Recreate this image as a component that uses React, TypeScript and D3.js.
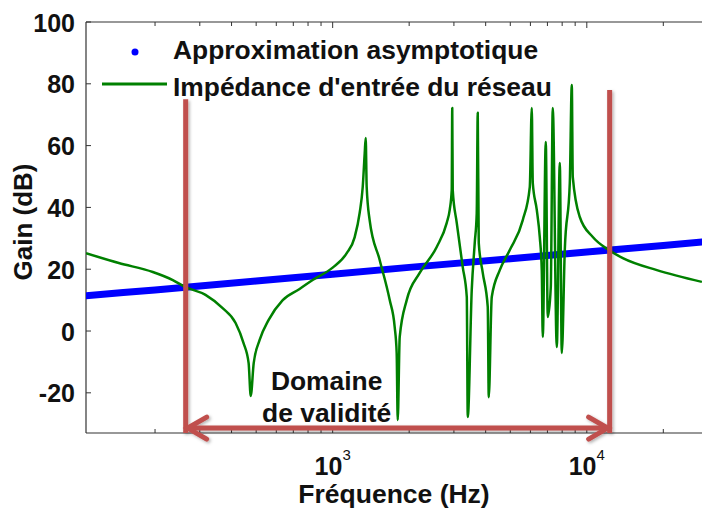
import { useEffect, useRef } from 'react';
import * as d3 from 'd3';

// Input impedance of the network (green)
const impedanceFreq = [107, 144, 196, 235, 264, 316, 369, 415, 446, 467, 476, 489, 516, 560, 636, 741, 834, 1000, 1136, 1221, 1277, 1313, 1337, 1349, 1361, 1398, 1531, 1677, 1754, 1786, 1803, 1836, 1956, 2200, 2567, 2811, 2888, 2941, 2955, 2968, 3078, 3250, 3371, 3401, 3526, 3623, 3689, 3723, 3757, 3896, 4076, 4114, 4227, 4545, 4977, 5598, 5965, 6074, 6130, 6356, 6531, 6650, 6711, 6896, 7022, 7216, 7347, 7620, 7830, 7973, 8192, 8572, 8729, 8808, 9385, 10560, 12210, 13860, 18870, 28370];
const impedanceGain = [25.2, 22.0, 19.1, 16.5, 14.2, 11.7, 7.4, 2.6, -3.9, -10.4, -21.0, -10.4, -2.9, 3.6, 10.0, 13.6, 16.5, 20.5, 25.2, 30.4, 38.2, 46.6, 57.6, 62.5, 46.6, 35.9, 23.0, 10.0, 1.3, -7.1, -28.8, -1.9, 10.0, 18.8, 27.2, 35.0, 39.2, 45.6, 72.2, 45.6, 35.0, 20.7, 11.0, -27.8, 13.3, 28.5, 38.2, 70.6, 28.5, 18.8, 7.8, -21.4, 11.0, 19.7, 26.2, 35.9, 46.6, 72.2, 47.9, 39.2, 30.4, 19.7, -1.9, 61.2, 4.5, 14.2, 72.2, -5.2, 54.4, -7.1, 26.2, 47.9, 79.6, 49.8, 36.9, 30.4, 26.2, 23.6, 19.7, 15.9];

// Asymptotic approximation (blue)
const asymFreq = [107, 150, 200, 300, 500, 1000, 2000, 5000, 10000, 20000, 28400];
const asymGain = [11.4, 12.5, 13.3, 14.6, 16.2, 18.4, 20.6, 23.4, 25.6, 27.7, 28.8];

const yTicks = [-20, 0, 20, 40, 60, 80, 100];
const xMajorTicks = [1000, 10000];
const xDomain = [107, 28400];
const yDomain = [-33, 100];

// validity domain annotation
const validityFreq = [264, 12300];
const validityTop = [75, 78];
const arrowGain = -31.4;

const legendLabels = ['Approximation asymptotique', "Impédance d'entrée du réseau"];

export default function App() {
  const svgRef = useRef<SVGSVGElement>(null);

  useEffect(() => {
    if (!svgRef.current) return;
    const width = 702;
    const height = 508;
    const margin = { top: 22, right: 0, bottom: 75, left: 86 };
    const font = "'Liberation Sans', Arial, sans-serif";

    d3.select(svgRef.current).selectAll('*').remove();
    const svg = d3.select(svgRef.current).attr('width', width).attr('height', height);

    const x = d3.scaleLog().domain(xDomain).range([margin.left, width - margin.right]);
    const y = d3.scaleLinear().domain(yDomain).range([height - margin.bottom, margin.top]);

    const defs = svg.append('defs');
    defs.append('clipPath').attr('id', 'plot')
      .append('rect')
      .attr('x', margin.left).attr('y', margin.top)
      .attr('width', width - margin.left - margin.right)
      .attr('height', height - margin.top - margin.bottom);
    const shadow = defs.append('filter').attr('id', 'shadow')
      .attr('x', '-50%').attr('y', '-50%').attr('width', '200%').attr('height', '200%');
    shadow.append('feDropShadow').attr('dx', 1.5).attr('dy', 1.5)
      .attr('stdDeviation', 1.5).attr('flood-color', '#000').attr('flood-opacity', 0.3);

    // minor log ticks
    const minor: number[] = [];
    for (let k = 2; k <= 4; k++) {
      for (let m = 1; m < 10; m++) {
        const v = m * Math.pow(10, k);
        if (v >= xDomain[0] && v <= xDomain[1]) minor.push(v);
      }
    }

    const axisColor = '#333';
    const y0 = y(yDomain[0]);
    const yTop = y(yDomain[1]);

    // frame: top, left, bottom
    svg.append('line').attr('x1', margin.left).attr('x2', width).attr('y1', yTop).attr('y2', yTop)
      .attr('stroke', axisColor).attr('stroke-width', 1.2);
    svg.append('line').attr('x1', margin.left).attr('x2', width).attr('y1', y0).attr('y2', y0)
      .attr('stroke', axisColor).attr('stroke-width', 1.2);
    svg.append('line').attr('x1', margin.left).attr('x2', margin.left).attr('y1', yTop).attr('y2', y0)
      .attr('stroke', axisColor).attr('stroke-width', 1.2);

    // x ticks (inside, bottom and top)
    minor.forEach((v) => {
      const len = xMajorTicks.includes(v) ? 6 : 4;
      svg.append('line').attr('x1', x(v)).attr('x2', x(v)).attr('y1', y0).attr('y2', y0 - len)
        .attr('stroke', axisColor);
      svg.append('line').attr('x1', x(v)).attr('x2', x(v)).attr('y1', yTop).attr('y2', yTop + len)
        .attr('stroke', axisColor);
    });

    // y ticks
    yTicks.forEach((v) => {
      svg.append('line').attr('x1', margin.left).attr('x2', margin.left + 5).attr('y1', y(v)).attr('y2', y(v))
        .attr('stroke', axisColor);
      svg.append('text').attr('x', 75).attr('y', y(v) + 9.5)
        .attr('text-anchor', 'end').attr('font-family', font).attr('font-weight', 'bold')
        .attr('font-size', 25).attr('fill', '#111').text(v);
    });

    // x tick labels 10^k
    xMajorTicks.forEach((v) => {
      const t = svg.append('text').attr('x', x(v)).attr('y', 475)
        .attr('text-anchor', 'middle').attr('font-family', font).attr('font-size', 25)
        .attr('font-weight', 'bold').attr('fill', '#111');
      t.append('tspan').text('10');
      t.append('tspan').attr('dy', -15).attr('font-size', 15).attr('font-weight', 'normal')
        .text(String(Math.round(Math.log10(v))));
    });

    // axis titles
    svg.append('text').attr('x', 394).attr('y', 503).attr('text-anchor', 'middle')
      .attr('font-family', font).attr('font-weight', 'bold').attr('font-size', 26.5).attr('fill', '#111')
      .text('Fréquence (Hz)');
    svg.append('text').attr('transform', `translate(32, 222) rotate(-90)`).attr('text-anchor', 'middle')
      .attr('font-family', font).attr('font-weight', 'bold').attr('font-size', 26).attr('fill', '#111')
      .text('Gain (dB)');

    const plot = svg.append('g').attr('clip-path', 'url(#plot)');

    // asymptote
    const asym = asymFreq.map((f, i) => [f, asymGain[i]] as [number, number]);
    plot.append('path')
      .attr('d', d3.line<[number, number]>().x((d) => x(d[0])).y((d) => y(d[1]))(asym) as string)
      .attr('fill', 'none').attr('stroke', '#0000ff').attr('stroke-width', 7).attr('stroke-linecap', 'round');

    // impedance
    const imp = impedanceFreq.map((f, i) => [f, impedanceGain[i]] as [number, number]);
    plot.append('path')
      .attr('d', d3.line<[number, number]>().x((d) => x(d[0])).y((d) => y(d[1])).curve(d3.curveMonotoneX)(imp) as string)
      .attr('fill', 'none').attr('stroke', '#008000').attr('stroke-width', 2.5).attr('stroke-linejoin', 'round');

    // validity annotation
    const red = '#c0504d';
    const ann = svg.append('g').attr('filter', 'url(#shadow)');
    validityFreq.forEach((f, i) => {
      ann.append('line').attr('x1', x(f)).attr('x2', x(f)).attr('y1', y(validityTop[i])).attr('y2', y0)
        .attr('stroke', red).attr('stroke-width', 5);
    });
    const ay = y(arrowGain);
    const xl = x(validityFreq[0]);
    const xr = x(validityFreq[1]);
    ann.append('line').attr('x1', xl + 2).attr('x2', xr - 2).attr('y1', ay).attr('y2', ay)
      .attr('stroke', red).attr('stroke-width', 5);
    ann.append('path').attr('d', `M${xl + 21},${ay - 11} L${xl + 2},${ay} L${xl + 21},${ay + 11}`)
      .attr('fill', 'none').attr('stroke', red).attr('stroke-width', 5).attr('stroke-linecap', 'round');
    ann.append('path').attr('d', `M${xr - 21},${ay - 11} L${xr - 2},${ay} L${xr - 21},${ay + 11}`)
      .attr('fill', 'none').attr('stroke', red).attr('stroke-width', 5).attr('stroke-linecap', 'round');

    const domX = (xl + xr) / 2 - 71;
    ['Domaine', 'de validité'].forEach((s, i) => {
      svg.append('text').attr('x', domX).attr('y', 390 + i * 32).attr('text-anchor', 'middle')
        .attr('font-family', font).attr('font-weight', 'bold').attr('font-size', 26.4).attr('fill', '#111')
        .text(s);
    });

    // legend
    svg.append('circle').attr('cx', 135).attr('cy', 52).attr('r', 3.5).attr('fill', '#0000ff');
    svg.append('line').attr('x1', 102).attr('x2', 167).attr('y1', 84).attr('y2', 84)
      .attr('stroke', '#008000').attr('stroke-width', 3);
    legendLabels.forEach((s, i) => {
      svg.append('text').attr('x', 173).attr('y', 59 + i * 37)
        .attr('font-family', font).attr('font-weight', 'bold').attr('font-size', 26.4).attr('fill', '#111')
        .text(s);
    });
  }, []);

  return <svg ref={svgRef} style={{ position: 'absolute', left: 0, top: 0, background: '#fff' }} />;
}
